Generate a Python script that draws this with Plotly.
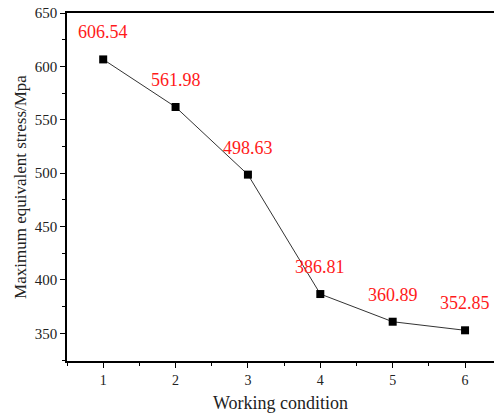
import plotly.graph_objects as go

conditions = [1, 2, 3, 4, 5, 6]
stress = [606.54, 561.98, 498.63, 386.81, 360.89, 352.85]
labels = ["606.54", "561.98", "498.63", "386.81", "360.89", "352.85"]

SERIF = "Liberation Serif, Times New Roman, serif"

fig = go.Figure()
fig.add_trace(go.Scatter(
    x=conditions, y=stress, mode="lines+markers",
    line=dict(color="#333333", width=1),
    marker=dict(symbol="square", size=8, color="black"),
    showlegend=False, cliponaxis=False,
))
for x, y, t in zip(conditions, stress, labels):
    fig.add_annotation(x=x, y=y, text=t, showarrow=False, yshift=27,
                       font=dict(family=SERIF, size=18, color="#ff1a1a"))

fig.update_layout(
    width=494, height=418,
    margin=dict(l=67, r=0, t=13, b=57),
    plot_bgcolor="white", paper_bgcolor="white",
    font=dict(family=SERIF, size=15, color="#222"),
)
fig.update_xaxes(
    range=[0.5, 6.4], tickvals=conditions, showline=True, linecolor="black", linewidth=1.5,
    mirror=True, ticks="outside", ticklen=5, tickwidth=1.2, tickcolor="black",
    tickfont=dict(family=SERIF, size=14, color="#222"),
    minor=dict(dtick=0.5, tick0=0.5, ticks="outside", ticklen=3, tickcolor="black", tickwidth=1),
    showgrid=False, zeroline=False,
    title=dict(text="Working condition", font=dict(family=SERIF, size=18, color="#222"), standoff=10),
)
fig.update_yaxes(
    range=[324.1, 650], tickvals=[350, 400, 450, 500, 550, 600, 650], showline=True,
    linecolor="black", linewidth=1.5, ticks="outside", ticklen=5, tickwidth=1.2, tickcolor="black",
    tickfont=dict(family=SERIF, size=15, color="#222"),
    minor=dict(dtick=25, tick0=0, ticks="outside", ticklen=3, tickcolor="black", tickwidth=1),
    showgrid=False, zeroline=False,
    title=dict(text="Maximum equivalent stress/Mpa", font=dict(family=SERIF, size=17, color="#222"), standoff=4),
)
fig.write_html("out.html")
